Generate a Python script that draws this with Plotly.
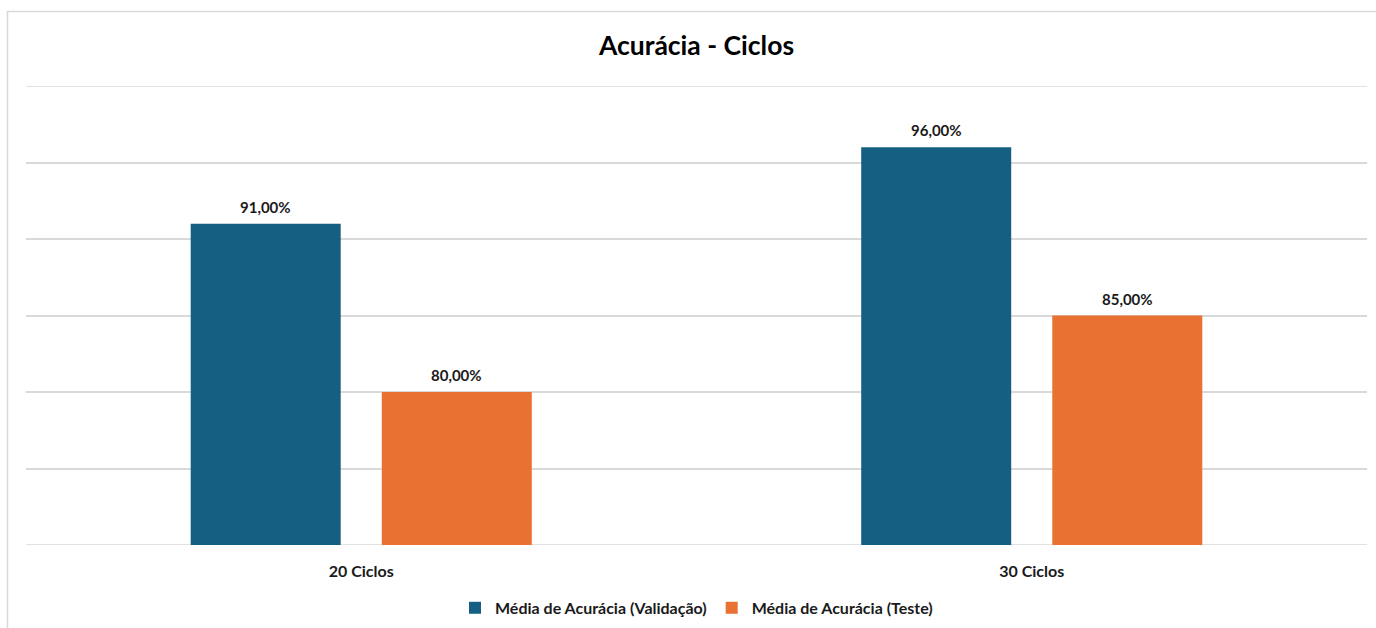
import plotly.graph_objects as go

# Accuracy by number of training cycles
categorias = ["20 Ciclos", "30 Ciclos"]
validacao = [0.91, 0.96]
teste = [0.80, 0.85]

nome_validacao = "Média de Acurácia (Validação)"
nome_teste = "Média de Acurácia (Teste)"

AZUL = "#156082"
LARANJA = "#E97132"
GRADE = "#D9D9D9"
FONTE = "Lato"

Y_MIN, Y_MAX, Y_STEP = 0.70, 1.00, 0.05
BARGAP, BARGROUPGAP = 0.43, 0.215

series = [(nome_validacao, validacao, AZUL), (nome_teste, teste, LARANJA)]

fig = go.Figure()
for nome, valores, cor in series:
    fig.add_trace(go.Bar(
        x=categorias, y=valores, name=f"<b>{nome}</b>",
        marker=dict(color=cor, line=dict(width=0)),
    ))

# value labels above each bar, centred on its slot within the group
slot = (1 - BARGAP) / len(series)
labels = []
for k, (_, valores, _) in enumerate(series):
    offset = -(1 - BARGAP) / 2 + slot * (k + 0.5)
    for i, v in enumerate(valores):
        labels.append(dict(
            xref="x", yref="y", x=i + offset, y=v,
            text="<b>" + f"{v:.2%}".replace(".", ",") + "</b>",
            showarrow=False, yanchor="bottom", yshift=6,
            font=dict(family=FONTE, size=15, color="#1a1a1a"),
        ))

# gridlines at the edges of the value range (plotly skips those at the ends)
edge_lines = [
    dict(type="line", xref="paper", yref="y", x0=0, x1=1, y0=v, y1=v,
         line=dict(color=GRADE, width=1.5), layer="below")
    for v in (Y_MIN, Y_MAX)
]

fig.update_layout(
    width=1376, height=628,
    separators=",.",
    paper_bgcolor="white", plot_bgcolor="white",
    margin=dict(l=26, r=9, t=86, b=83, autoexpand=False),
    barmode="group", bargap=BARGAP, bargroupgap=BARGROUPGAP,
    title=dict(
        text="<b>Acurácia - Ciclos</b>",
        xref="paper", x=0.5, xanchor="center",
        y=1 - 46 / 628, yanchor="middle",
        font=dict(family=FONTE, size=26.5, color="#000000"),
    ),
    legend=dict(
        orientation="h", x=0.5, xanchor="center",
        y=-0.137, yanchor="middle",
        font=dict(family=FONTE, size=16, color="#1a1a1a"),
        traceorder="normal",
    ),
    showlegend=True,
    annotations=labels,
    shapes=[dict(
        type="rect", xref="paper", yref="paper",
        x0=-0.0138, x1=1.2, y0=-0.4, y1=1.1623,
        line=dict(color=GRADE, width=1.5), fillcolor="rgba(0,0,0,0)",
        layer="below",
    )] + edge_lines,
)

fig.update_xaxes(
    type="category",
    tickfont=dict(family=FONTE, size=16, color="#1a1a1a"),
    tickprefix="<b>", ticksuffix="</b>",
    showgrid=False, showline=False, zeroline=False,
    ticks="outside", ticklen=12, tickcolor="rgba(0,0,0,0)",
)
fig.update_yaxes(
    range=[Y_MIN, Y_MAX], dtick=Y_STEP, tick0=Y_MIN,
    showgrid=True, gridcolor=GRADE, gridwidth=1.5,
    showticklabels=False, zeroline=False, showline=False,
)

fig.write_html("out.html")
